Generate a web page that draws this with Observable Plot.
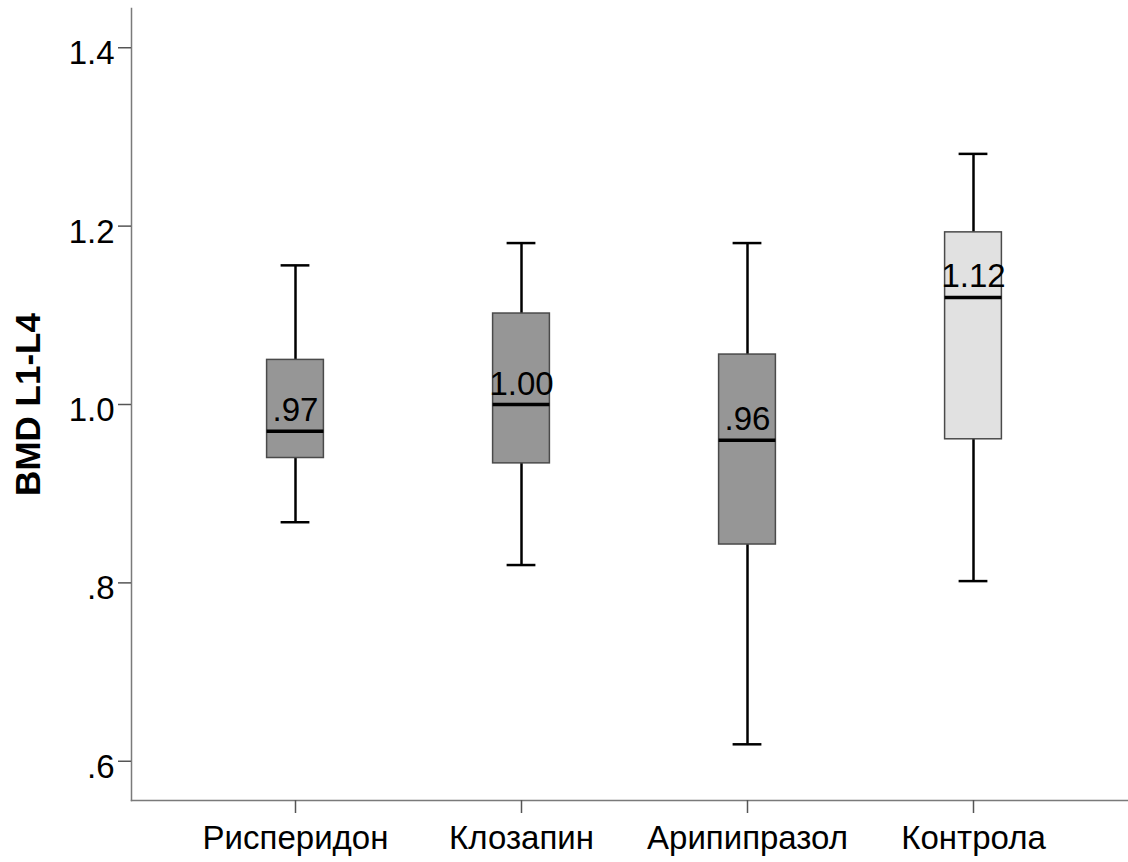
<!DOCTYPE html>
<html>
<head>
<meta charset="utf-8">
<script src="https://cdn.jsdelivr.net/npm/d3@7"></script>
<script src="https://cdn.jsdelivr.net/npm/@observablehq/plot@0.6"></script>
<style>
  html, body { margin: 0; padding: 0; background: #ffffff; }
  #chart svg { display: block; }
</style>
</head>
<body>
<div id="chart"></div>
<script>
// Bone mineral density (L1-L4) by treatment group: box-plot summaries
const groups = ["Рисперидон", "Клозапин", "Арипипразол", "Контрола"];
const whiskerLow = [0.868, 0.820, 0.619, 0.802];
const quartile1 = [0.940, 0.934, 0.843, 0.961];
const medians = [0.97, 1.00, 0.96, 1.12];
const quartile3 = [1.050, 1.102, 1.056, 1.193];
const whiskerHigh = [1.156, 1.181, 1.181, 1.281];

const yTickValues = [0.6, 0.8, 1.0, 1.2, 1.4];
const yTickLabels = [".6", ".8", "1.0", "1.2", "1.4"];
const yTitle = "BMD L1-L4";
const controlGroup = "Контрола";

const rows = groups.map((g, i) => ({
  group: g,
  lo: whiskerLow[i],
  q1: quartile1[i],
  med: medians[i],
  q3: quartile3[i],
  hi: whiskerHigh[i]
}));

// SPSS-style number labels: drop the leading zero
const fmt = d => d3.format(".2f")(d).replace(/^0\./, ".");
const tickLabel = d => yTickLabels[yTickValues.findIndex(v => Math.abs(v - d) < 1e-9)];

const boxInset = 84.6;
const capInset = 98.6;
const font = "'Liberation Sans', Arial, sans-serif";

const chart = Plot.plot({
  width: 1128,
  height: 862,
  marginLeft: 131,
  marginRight: 0,
  marginTop: 8,
  marginBottom: 62,
  style: { fontFamily: font, background: "#ffffff", color: "#000" },
  x: { type: "band", domain: groups, range: [181, 1086], padding: 0, label: null },
  y: { domain: [0.556, 1.444], label: null },
  marks: [
    // axis lines
    Plot.frame({ anchor: "left", stroke: "#7a7a7a", strokeWidth: 1.5 }),
    Plot.frame({ anchor: "bottom", stroke: "#7a7a7a", strokeWidth: 1.5 }),
    // y tick marks
    Plot.axisY({
      ticks: yTickValues,
      tickFormat: () => "",
      tickSize: 13,
      stroke: "#555",
      strokeWidth: 1.5,
      label: null
    }),
    // y tick labels, sitting slightly below their ticks
    Plot.axisY({
      ticks: yTickValues,
      tickFormat: tickLabel,
      tickSize: 0,
      tickPadding: 17,
      fontSize: 33,
      dy: 6,
      label: null
    }),
    Plot.axisX({
      tickSize: 13,
      tickPadding: 12,
      fontSize: 33,
      stroke: "#555",
      strokeWidth: 1.5,
      label: null
    }),
    // y-axis title
    Plot.text([yTitle], {
      frameAnchor: "left",
      textAnchor: "middle",
      rotate: -90,
      dx: -103,
      fontSize: 35,
      fontWeight: "bold",
      fill: "#000"
    }),
    // whiskers
    Plot.ruleX(rows, { x: "group", y1: "lo", y2: "q1", stroke: "#000", strokeWidth: 2.5 }),
    Plot.ruleX(rows, { x: "group", y1: "q3", y2: "hi", stroke: "#000", strokeWidth: 2.5 }),
    Plot.tickY(rows, { x: "group", y: "lo", insetLeft: capInset, insetRight: capInset, stroke: "#000", strokeWidth: 2.5 }),
    Plot.tickY(rows, { x: "group", y: "hi", insetLeft: capInset, insetRight: capInset, stroke: "#000", strokeWidth: 2.5 }),
    // boxes
    Plot.barY(rows, {
      x: "group",
      y1: "q1",
      y2: "q3",
      insetLeft: boxInset,
      insetRight: boxInset,
      fill: d => d.group === controlGroup ? "#e1e1e1" : "#969696",
      stroke: "#4a4a4a",
      strokeWidth: 1.5
    }),
    // medians
    Plot.tickY(rows, { x: "group", y: "med", insetLeft: boxInset, insetRight: boxInset, stroke: "#000", strokeWidth: 3.5 }),
    Plot.text(rows, {
      x: "group",
      y: "med",
      text: d => fmt(d.med),
      lineAnchor: "bottom",
      dy: -10,
      fontSize: 33,
      fill: "#000"
    })
  ]
});

document.getElementById("chart").appendChild(chart);
</script>
</body>
</html>
